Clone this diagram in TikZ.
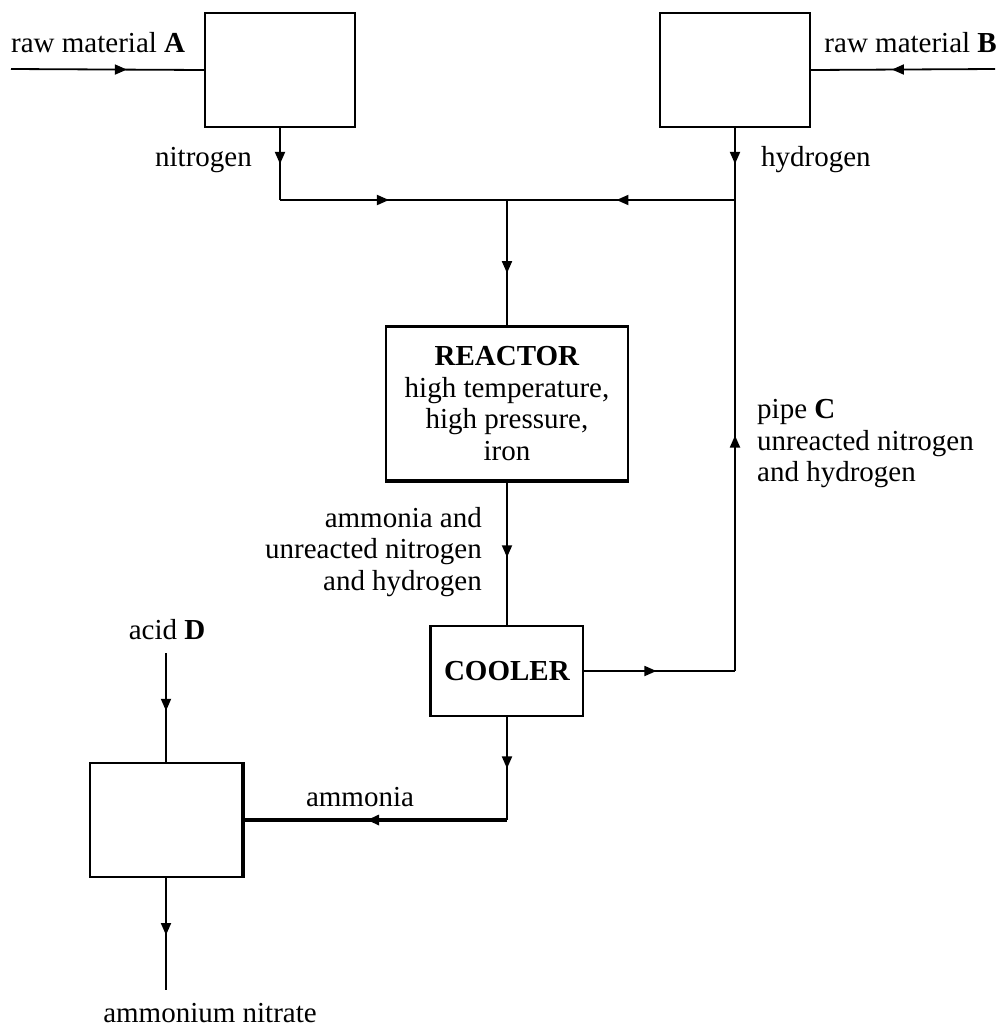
\documentclass[tikz,border=0pt]{standalone}
\usepackage{fontspec}
\setmainfont{Liberation Serif}
\usetikzlibrary{arrows.meta,decorations.markings}
\begin{document}
\begin{tikzpicture}[x=1pt,y=-1pt,
  box/.style={draw,line width=1.8pt,inner sep=0pt},
  pipe/.style={line width=1.8pt},
  fat/.style={line width=3.2pt},
  arr/.style={postaction={decorate},decoration={markings,mark=at position #1 with {\arrow{Triangle[length=12pt,width=10pt]}}}},
  lbl/.style={font=\fontsize{29}{31.5}\selectfont,inner sep=0pt}]
\useasboundingbox (0,0) rectangle (1002,1029);
% boxes
\node[box,minimum width=150pt,minimum height=114pt] (boxA) at (280,70) {};
\node[box,minimum width=150pt,minimum height=114pt] (boxB) at (735,70) {};
\node[box,minimum width=242pt,minimum height=153pt,lbl,align=center] (reactor) at (507,403.5)
  {\textbf{REACTOR}\\high temperature,\\high pressure,\\iron};
\node[box,minimum width=152pt,minimum height=90pt,lbl] (cooler) at (507,671) {\textbf{COOLER}};
\node[box,minimum width=152pt,minimum height=114pt] (boxE) at (166,820) {};
% thick edges
\draw[fat] (reactor.north west) -- (reactor.north east);
\draw[fat] (reactor.south west) -- (reactor.south east);
\draw[fat] (cooler.north west) -- (cooler.south west);
\draw[fat] (boxE.north east) -- (boxE.south east);
% coordinates
\coordinate (inA) at (11,69);
\coordinate (inB) at (995,69);
\coordinate (jN) at (280,200);
\coordinate (jM) at (507,200);
\coordinate (jH) at (735,200);
\coordinate (jC) at (735,671);
\coordinate (jA) at (507,820);
\coordinate (inD) at (166,653);
\coordinate (outE) at (166,990);
% connectors
\draw[pipe,arr=0.6] (inA) -- (boxA.west);
\draw[pipe,arr=0.56] (inB) -- (boxB.east);
\draw[pipe,arr=0.5] (boxA.south) -- (jN);
\draw[pipe,arr=0.48] (jN) -- (jM);
\draw[pipe,arr=0.5] (boxB.south) -- (jH);
\draw[pipe,arr=0.52] (jH) -- (jM);
\draw[pipe,arr=0.58] (jM) -- (reactor.north);
\draw[pipe,arr=0.53] (reactor.south) -- (cooler.north);
\draw[pipe,arr=0.48] (cooler.east) -- (jC);
\draw[pipe,arr=0.5] (jC) -- (jH);
\draw[pipe,arr=0.5] (cooler.south) -- (jA);
\draw[fat,arr=0.53] (jA) -- (boxE.east);
\draw[pipe,arr=0.53] (inD) -- (boxE.north);
\draw[pipe,arr=0.51] (boxE.south) -- (outE);
% labels
\node[lbl,anchor=west] (tA) at (11,43) {raw material \textbf{A}};
\node[lbl,anchor=east] (tB) at (997,43) {raw material \textbf{B}};
\node[lbl,anchor=east] (tN) at (252,160) {nitrogen};
\node[lbl,anchor=west] (tH) at (761,160) {hydrogen};
\node[lbl,anchor=east,align=right] (tAm) at (482,552) {ammonia and\\unreacted nitrogen\\and hydrogen};
\node[lbl,anchor=west,align=left] (tC) at (757,444) {pipe \textbf{C}\\unreacted nitrogen\\and hydrogen};
\node[lbl] (tD) at (167,630) {acid \textbf{D}};
\node[lbl] (tAmm) at (360,797) {ammonia};
\node[lbl] (tAN) at (210,1013) {ammonium nitrate};
\end{tikzpicture}
\end{document}
